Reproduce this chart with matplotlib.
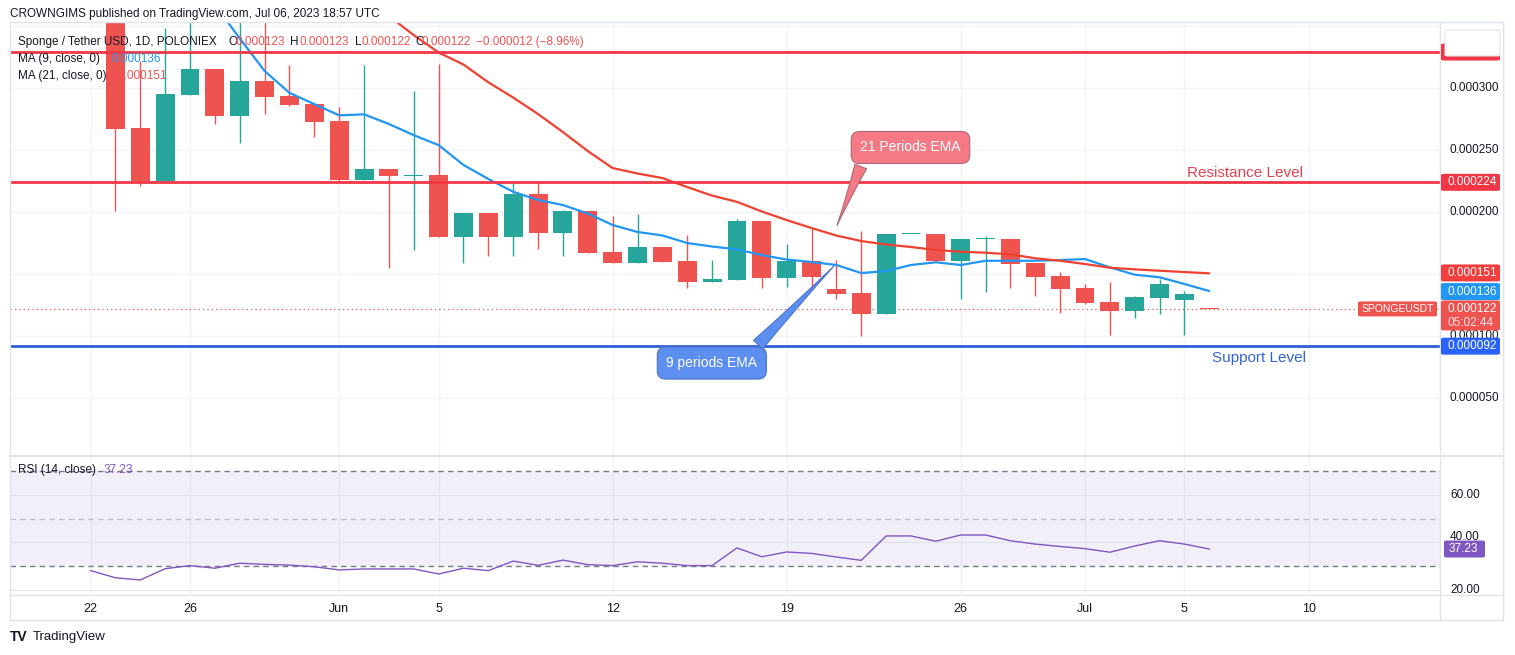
import matplotlib
matplotlib.use('Agg')
import matplotlib.pyplot as plt
from matplotlib.patches import FancyBboxPatch
from matplotlib.lines import Line2D

plt.rcParams['font.family'] = ['Liberation Sans', 'DejaVu Sans']

W, H = 1515, 655

# ---------------- data (prices in units of 1e-6 USDT) ----------------
days = list(range(1, 46))          # day index, 0 = 22 May 2023
opens = [375, 267.6, 225, 294.6, 315, 277.7, 305.6, 293.5, 287, 273.4,
         225.9, 234.7, 229.4, 229.9, 180.2, 199.3, 180.2, 214.6, 183.4, 200.9,
         167.8, 159.2, 171.9, 160.6, 143.9, 145.5, 192.9, 147.1, 160.9, 137.8,
         134.8, 118.1, 182.1, 182.4, 160.9, 178.0, 178.3, 159.0, 148.5, 138.8,
         127.6, 120.6, 131.1, 129.4, 123]
highs = [390, 322, 348, 360, 315, 360, 360, 318.5, 287, 284.7,
         318.5, 234.7, 297.6, 319, 199.3, 199.3, 223.7, 223.2, 201.7, 200.9,
         196.9, 198.5, 171.9, 181.5, 161.4, 194.2, 192.9, 174.3, 187.5, 161.4,
         184.8, 182.4, 182.4, 182.4, 178.3, 180.7, 178.3, 159.0, 151.7, 142.1,
         143.9, 132.4, 146.3, 136.4, 123]
lows = [201, 221, 225, 294, 271, 256, 279, 285.5, 260.8, 225,
        225.5, 155.2, 169.5, 180, 159.2, 164.9, 165, 170, 165, 167.3,
        159.2, 159.2, 160, 139.1, 143.9, 145.5, 139.1, 139.9, 137.2, 129.7,
        100.2, 118.1, 182.0, 160.9, 130.2, 135.9, 139.1, 132.6, 118.9, 126.2,
        101, 114.9, 118.1, 101, 122]
closes = [267, 225.3, 295, 315, 277.7, 305.6, 293, 286.5, 273, 225.9,
          234.7, 229.4, 229.8, 180.2, 199.3, 180.2, 214.6, 183.4, 200.9, 167.3,
          159.2, 171.9, 160, 143.9, 146.3, 192.9, 147.1, 160.9, 148, 134.2,
          118.1, 182.4, 182.3, 160.9, 178.3, 178.2, 158.5, 148, 138.3, 127,
          120.6, 131.6, 142.1, 134, 122]

ma9_days = list(range(5, 46))
ma9 = [367, 340, 313.7, 296.1, 287, 278, 278.8, 271, 262, 254,
       238, 226.7, 216.4, 209.8, 205.7, 198.9, 189.6, 184, 181.2, 175.1,
       172.3, 170, 165.4, 161.8, 159.8, 157.4, 150.9, 152.5, 157.4, 159.6,
       157.4, 160.8, 160.8, 160.8, 161.4, 162.2, 155.5, 149.6, 147.5, 142.1,
       136.4]
ma21_days = list(range(12, 46))
ma21 = [358, 342.6, 328.6, 318.9, 304.6, 292.3, 279, 264.5, 249.2, 235.5,
        231.1, 227.5, 220.2, 213.3, 208.3, 200.5, 193.6, 187.2, 181.1, 176.7,
        173.9, 171.9, 169.5, 168.1, 167.3, 166, 162.8, 160.8, 158.2, 155.2,
        153.9, 152.8, 151.7, 150.7]

rsi_days = list(range(0, 46))
rsi = [28.2, 25.2, 24.3, 29.0, 30.3, 29.2, 31.3, 30.8, 30.5, 29.8,
       28.5, 28.9, 28.9, 28.9, 26.8, 29.2, 28.2, 32.2, 30.4, 32.6,
       30.7, 30.3, 31.9, 31.3, 30.3, 30.3, 37.7, 34.0, 36.0, 35.4,
       33.9, 32.5, 42.7, 42.7, 40.5, 43.1, 43.1, 40.7, 39.3, 38.3,
       37.4, 35.9, 38.5, 40.7, 39.3, 37.23]

xtick_days = [0, 4, 10, 14, 21, 28, 35, 40, 44, 49]
xtick_labels = ['22', '26', 'Jun', '5', '12', '19', '26', 'Jul', '5', '10']
price_ticks = [50, 100, 150, 200, 250, 300, 350]
rsi_ticks = [20, 40, 60]

resistance = 224
support = 92
top_level = 329
last_price = 122
ma9_last = 136
ma21_last = 151
rsi_last = 37.23

GREEN = '#26A69A'
RED = '#EF5350'
BLUE = '#2196F3'
LINE_RED = '#F23645'
SUP_BLUE = '#2962FF'
PURPLE = '#7E57C2'
TXT = '#131722'
GRID = '#F0F3FA'
BORDER = '#E0E3EB'


def fx(x):
    return x / W


def fy(y):
    return 1 - y / H


fig = plt.figure(figsize=(W / 100, H / 100), dpi=100)
fig.patch.set_facecolor('white')

ax = fig.add_axes([fx(10), fy(455), (1440 - 10) / W, (455 - 22) / H])
axr = fig.add_axes([fx(10), fy(595), (1440 - 10) / W, (595 - 456) / H], sharex=ax)

XL = (-3.242, 54.28)
ax.set_xlim(*XL)
ax.set_ylim(4.3, 353.2)
axr.set_ylim(18.0, 76.15)

for a in (ax, axr):
    for s in a.spines.values():
        s.set_visible(False)
    a.tick_params(length=0)
    a.set_yticks([])
    for d in xtick_days:
        a.axvline(d, color=GRID, lw=1, zorder=0)

ax.tick_params(labelbottom=False)
for v in price_ticks:
    ax.axhline(v, color=GRID, lw=1, zorder=0)

# candles
for d, o, h, l, c in zip(days, opens, highs, lows, closes):
    col = GREEN if c >= o else RED
    ax.vlines(d, l, h, color=col, lw=1, zorder=2)
    ax.bar(d, max(abs(c - o), 0.9), bottom=min(o, c), width=0.76,
           color=col, zorder=3, linewidth=0)

ax.plot(ma9_days, ma9, color=BLUE, lw=1.6, zorder=4, solid_capstyle='round')
ax.plot(ma21_days, ma21, color='#F0412F', lw=1.6, zorder=4, solid_capstyle='round')

ax.axhline(resistance, color=LINE_RED, lw=2, zorder=5)
ax.axhline(top_level, color=LINE_RED, lw=2, zorder=5)
ax.axhline(support, color='#2E5FD6', lw=2, zorder=5)
ax.axhline(last_price, color=RED, lw=0.9, ls=(0, (1, 2.5)), zorder=1)

ax.text(44.1, 231.7, 'Resistance Level', color='#E5414F', fontsize=11,
        va='center', ha='left', zorder=6)
ax.text(45.1, 82.2, 'Support Level', color='#3463D6', fontsize=11,
        va='center', ha='left', zorder=6)

# callouts
ax.annotate('21 Periods EMA', xy=(29.98, 187), xytext=(32.98, 252.1),
            textcoords='data', ha='center', va='center', color='white',
            fontsize=10, zorder=7,
            bbox=dict(boxstyle='round,pad=0.65,rounding_size=0.6',
                      fc='#F57A85', ec='#A86A78', lw=0.8),
            arrowprops=dict(arrowstyle='wedge,tail_width=0.9,shrink_factor=0.4',
                            fc='#F57A85', ec='#A86A78', lw=0.8,
                            relpos=(0.07, 0.3)))
ax.annotate('9 periods EMA', xy=(29.98, 158.2), xytext=(24.99, 78.4),
            textcoords='data', ha='center', va='center', color='white',
            fontsize=10, zorder=7,
            bbox=dict(boxstyle='round,pad=0.65,rounding_size=0.6',
                      fc='#5C8FF0', ec='#4A73CC', lw=0.8),
            arrowprops=dict(arrowstyle='wedge,tail_width=0.9,shrink_factor=0.4',
                            fc='#5C8FF0', ec='#4A73CC', lw=0.8,
                            relpos=(0.88, 0.95)))

# RSI pane
axr.axhspan(30, 70, color=PURPLE, alpha=0.09, lw=0, zorder=0)
for v in rsi_ticks:
    axr.axhline(v, color=BORDER, lw=0.8, zorder=0.5)
axr.axhline(70, color='#787B86', lw=1, ls=(0, (4, 3)), zorder=1)
axr.axhline(30, color='#787B86', lw=1, ls=(0, (4, 3)), zorder=1)
axr.axhline(50, color='#787B86', lw=1, ls=(0, (4, 3)), alpha=0.4, zorder=1)
axr.plot(rsi_days, rsi, color=PURPLE, lw=1, zorder=3)

axr.set_xticks(xtick_days)
axr.set_xticklabels(xtick_labels, fontsize=9, color=TXT)
axr.tick_params(axis='x', pad=6)

fig.canvas.draw()


def ypix(a, v):
    """display y (top-origin pixels) of data value v on axes a"""
    return H - a.transData.transform((0, v))[1]


def fig_rect(x0, y0, x1, y1, color, ec='none', z=10):
    p = FancyBboxPatch((fx(x0), fy(y1)), (x1 - x0) / W, (y1 - y0) / H,
                       boxstyle='round,pad=0,rounding_size=0.002',
                       transform=fig.transFigure, fc=color, ec=ec, lw=0.8, zorder=z)
    fig.add_artist(p)


# price axis labels
for v in price_ticks[:-1]:
    fig.text(fx(1449), fy(ypix(ax, v)), f'{v * 1e-6:.6f}', fontsize=8.5,
             color=TXT, va='center', ha='left', zorder=9)
for v in rsi_ticks:
    if v == 40:
        # mostly hidden behind the RSI value badge in the reference
        fig.text(fx(1450), fy(ypix(axr, v) - 5), f'{v:.2f}', fontsize=8.5,
                 color=TXT, va='center', ha='left', zorder=9)
    else:
        fig.text(fx(1450), fy(ypix(axr, v)), f'{v:.2f}', fontsize=8.5,
                 color=TXT, va='center', ha='left', zorder=9)


def badge(a, v, text, color, below=None):
    y = ypix(a, v)
    y1 = y + (21.5 if below else 8.5)
    fig_rect(1441, y - 8.5, 1500, y1, color)
    fig.text(fx(1448), fy(y), text, fontsize=8.5, color='white',
             va='center', ha='left', zorder=11)
    if below:
        fig.text(fx(1448), fy(y + 14), below, fontsize=8.5, color='#FDE3E4',
                 va='center', ha='left', zorder=11)


badge(ax, top_level, f'{top_level * 1e-6:.6f}', LINE_RED)
fig_rect(1445, 30, 1500, 56, 'white', ec='#E0E3EB', z=12)
badge(ax, resistance, f'{resistance * 1e-6:.6f}', LINE_RED)
badge(ax, ma21_last, f'{ma21_last * 1e-6:.6f}', '#F23E3E')
badge(ax, ma9_last, f'{ma9_last * 1e-6:.6f}', BLUE)
badge(ax, last_price, f'{last_price * 1e-6:.6f}', RED, below='05:02:44')
badge(ax, support, f'{support * 1e-6:.6f}', SUP_BLUE)

yl = ypix(ax, last_price)
fig_rect(1358, yl - 7.5, 1437, yl + 7.5, RED)
fig.text(fx(1397.5), fy(yl), 'SPONGEUSDT', fontsize=7.5, color='white',
         va='center', ha='center', zorder=11)

yr = ypix(axr, rsi_last)
fig_rect(1444, yr - 8.5, 1485, yr + 8.5, PURPLE)
fig.text(fx(1449), fy(yr), f'{rsi_last:.2f}', fontsize=8.5, color='white',
         va='center', ha='left', zorder=11)


# frame
def fline(x0, y0, x1, y1, color=BORDER, lw=1):
    fig.add_artist(Line2D([fx(x0), fx(x1)], [fy(y0), fy(y1)], color=color,
                          lw=lw, transform=fig.transFigure, zorder=8))


fline(10, 22, 1503, 22)
fline(10, 620, 1503, 620)
fline(10, 22, 10, 620)
fline(1503, 22, 1503, 620)
fline(1440, 22, 1440, 620)
fline(10, 455.5, 1503, 455.5, lw=1.5)
fline(10, 595, 1503, 595)

# header / legend texts
fig.text(fx(10), fy(14), 'CROWNGIMS published on TradingView.com, Jul 06, 2023 18:57 UTC',
         fontsize=8.5, color=TXT, va='center', ha='left')
row1 = [(18, 'Sponge / Tether USD, 1D, POLONIEX', TXT), (229, 'O', TXT), (236, '0.000123', RED),
        (290, 'H', TXT), (299, '0.000123', RED), (355, 'L', TXT), (362, '0.000122', RED),
        (415, 'C', TXT), (422, '0.000122', RED), (476, '\u22120.000012 (\u22128.96%)', RED)]
for x, t, c in row1:
    fig.text(fx(x), fy(42), t, fontsize=8.5, color=c, va='center', ha='left', zorder=9)
fig.text(fx(18), fy(59), 'MA (9, close, 0)', fontsize=8.5, color=TXT, va='center', zorder=9)
fig.text(fx(112), fy(59), f'{ma9_last * 1e-6:.6f}', fontsize=8.5, color=BLUE, va='center', zorder=9)
fig.text(fx(18), fy(76), 'MA (21, close, 0)', fontsize=8.5, color=TXT, va='center', zorder=9)
fig.text(fx(118), fy(76), f'{ma21_last * 1e-6:.6f}', fontsize=8.5, color=RED, va='center', zorder=9)
fig.text(fx(18), fy(470), 'RSI (14, close)', fontsize=8.5, color=TXT, va='center', zorder=9)
fig.text(fx(104), fy(470), f'{rsi_last:.2f}', fontsize=8.5, color=PURPLE, va='center', zorder=9)

fig.text(fx(10), fy(637), 'TV', fontsize=10, fontweight='heavy', color=TXT, va='center')
fig.text(fx(33), fy(637), 'TradingView', fontsize=9.5, color=TXT, va='center')

fig.savefig('out.png', dpi=100, facecolor='white')
